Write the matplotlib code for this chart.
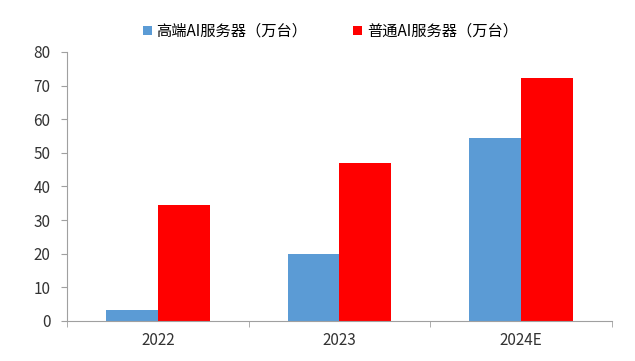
import numpy as np
import matplotlib.pyplot as plt

plt.rcParams['font.family'] = ['Noto Sans CJK SC', 'DejaVu Sans']

# 数据
years = ['2022', '2023', '2024E']
high_end = [3.3, 20.0, 54.5]
normal = [34.5, 47.0, 72.3]

fig = plt.figure(figsize=(6.35, 3.61), dpi=100)
ax = fig.add_axes([0.1055, 0.111, 0.858, 0.745])

x = np.arange(len(years))
w = 0.285
ax.bar(x - w/2, high_end, w, color='#5b9bd5', label='高端AI服务器（万台）')
ax.bar(x + w/2, normal, w, color='#ff0000', label='普通AI服务器（万台）')

ax.set_xlim(-0.5, 2.5)
ax.set_ylim(0, 80)
ax.set_yticks(range(0, 81, 10))
ax.set_xticks(x)
ax.set_xticklabels(years)
ax.set_xticks([-0.5, 0.5, 1.5, 2.5], minor=True)
ax.tick_params(axis='x', which='major', length=0, pad=8, labelsize=11, colors='#333333')
ax.tick_params(axis='x', which='minor', length=4, color='#a0a0a0')
ax.tick_params(axis='y', length=4, color='#a0a0a0', labelsize=11, labelcolor='#333333', pad=8)

for s in ['top', 'right']:
    ax.spines[s].set_visible(False)
for s in ['left', 'bottom']:
    ax.spines[s].set_color('#a0a0a0')

fig.legend(loc='upper center', bbox_to_anchor=(0.52, 0.975), ncol=2, frameon=False,
           fontsize=11, handlelength=0.6, handleheight=0.6, columnspacing=3, handletextpad=0.3)

plt.savefig('out.png', dpi=100)
